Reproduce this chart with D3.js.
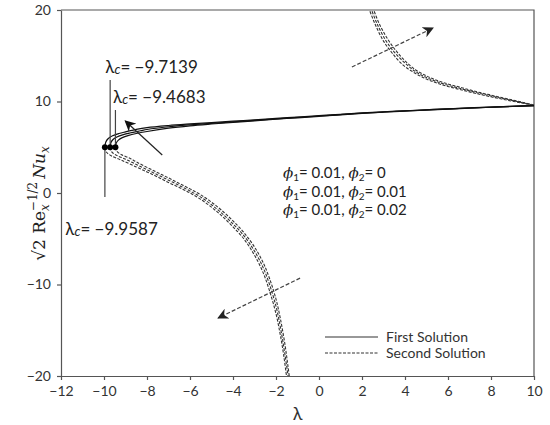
<!DOCTYPE html>
<html><head><meta charset="utf-8">
<script src="https://cdn.jsdelivr.net/npm/d3@7"></script>
<style>body{margin:0;background:#fff;} svg{display:block;}</style>
</head><body>
<svg id="chart" width="550" height="425"></svg>
<script>
// ---- data ----
const xTicks = [-12,-10,-8,-6,-4,-2,0,2,4,6,8,10];
const yTicks = [-20,-10,0,10,20];
const lambdaC = [-9.9587, -9.7139, -9.4683];
const lambdaCLabels = ["−9.9587", "−9.7139", "−9.4683"];
const phiLabels = [["0.01","0"],["0.01","0.01"],["0.01","0.02"]];
const legendLabels = ["First Solution", "Second Solution"];

const firstA = [[-9.9587,5.0],[-9.92,5.55],[-9.8,5.95],[-9.6,6.25],[-9.3,6.5],[-9.0,6.68],[-8.5,6.95],[-8,7.15],[-7,7.38],[-6,7.55],[-5,7.7],[-4,7.85],[-3,8.0],[-2,8.15],[-1,8.3],[0,8.45],[1,8.6],[2,8.75],[3,8.88],[4,8.99],[5,9.1],[6,9.2],[7,9.3],[8,9.39],[9,9.48],[10,9.56]];
const firstB = [[-9.7139,5.0],[-9.68,5.5],[-9.58,5.85],[-9.4,6.12],[-9.1,6.38],[-8.8,6.56],[-8.3,6.8],[-8,6.94],[-7,7.24],[-6,7.45],[-5,7.62],[-4,7.78],[-3,7.94],[-2,8.1],[-1,8.26],[0,8.41],[1,8.57],[2,8.72],[3,8.85],[4,8.97],[5,9.08],[6,9.19],[7,9.29],[8,9.38],[9,9.47],[10,9.55]];
const firstC = [[-9.4683,5.0],[-9.43,5.45],[-9.33,5.78],[-9.15,6.05],[-8.85,6.3],[-8.5,6.5],[-8,6.72],[-7,7.08],[-6,7.34],[-5,7.54],[-4,7.72],[-3,7.89],[-2,8.06],[-1,8.22],[0,8.38],[1,8.54],[2,8.69],[3,8.83],[4,8.95],[5,9.06],[6,9.17],[7,9.27],[8,9.37],[9,9.46],[10,9.55]];

const secondLowA = [[-9.9587,5.0],[-9.88,4.45],[-9.65,4.05],[-9.2,3.6],[-8.5,2.85],[-8,2.3],[-7.5,1.75],[-7,1.15],[-6.5,0.6],[-6,0.0],[-5.5,-0.7],[-5,-1.55],[-4.5,-2.55],[-4,-3.7],[-3.5,-5.0],[-3,-6.8],[-2.6,-8.7],[-2.3,-10.7],[-2.0,-13.2],[-1.8,-15.5],[-1.65,-17.6],[-1.5,-20.2],[-1.45,-21]];
const secondLowB = [[-9.7139,5.0],[-9.64,4.5],[-9.42,4.12],[-9.0,3.7],[-8.5,3.12],[-8,2.55],[-7.5,1.98],[-7,1.4],[-6.5,0.82],[-6,0.22],[-5.5,-0.45],[-5,-1.28],[-4.5,-2.25],[-4,-3.38],[-3.5,-4.65],[-3,-6.35],[-2.6,-8.15],[-2.3,-10.0],[-2.0,-12.4],[-1.8,-14.6],[-1.6,-17.4],[-1.42,-20.3],[-1.38,-21]];
const secondLowC = [[-9.4683,5.0],[-9.4,4.55],[-9.18,4.18],[-8.8,3.8],[-8.5,3.4],[-8,2.8],[-7.5,2.22],[-7,1.65],[-6.5,1.05],[-6,0.45],[-5.5,-0.2],[-5,-1.0],[-4.5,-1.95],[-4,-3.05],[-3.5,-4.3],[-3,-5.9],[-2.6,-7.6],[-2.3,-9.35],[-2.0,-11.6],[-1.8,-13.7],[-1.6,-16.3],[-1.45,-18.8],[-1.33,-21]];

const secondHighA = [[2.5,20.3],[2.8,18.5],[3.2,16.8],[3.6,15.5],[4.0,14.45],[4.5,13.45],[5,12.8],[5.5,12.3],[6,11.92],[6.5,11.6],[7,11.28],[7.5,10.97],[8,10.7],[8.5,10.43],[9,10.17],[9.5,9.9],[10,9.62]];
const secondHighB = [[2.4,20.3],[2.7,18.5],[3.1,16.7],[3.5,15.4],[4.0,14.2],[4.5,13.25],[5,12.62],[5.5,12.15],[6,11.78],[6.5,11.47],[7,11.16],[7.5,10.87],[8,10.6],[8.5,10.35],[9,10.1],[9.5,9.85],[10,9.6]];
const secondHighC = [[2.3,20.3],[2.6,18.5],[3.0,16.6],[3.4,15.3],[3.9,14.0],[4.5,13.05],[5,12.45],[5.5,12.0],[6,11.64],[6.5,11.34],[7,11.05],[7.5,10.77],[8,10.51],[8.5,10.27],[9,10.03],[9.5,9.8],[10,9.58]];

// annotation anchors (data units)
const arrowSolid = [[-7.29,4.15],[-9.01,7.87]];
const arrowUp = [[1.53,13.77],[5.30,18.03]];
const arrowDown = [[-0.88,-9.3],[-4.69,-13.66]];
const lcLineEnds = [-0.45, 12.35, 9.07];
const lcLabelPos = [[-11.8,-4.6],[-9.94,13.1],[-9.58,9.84]];

// ---- drawing ----
const svg = d3.select("#chart");
const x = d3.scaleLinear().domain([-12,10]).range([61,534]);
const y = d3.scaleLinear().domain([-20,20]).range([376,10]);
const axisColor = "#555", textColor = "#333";
const tickFont = "Lato, 'Open Sans', sans-serif";

const defs = svg.append("defs");
defs.append("clipPath").attr("id","clip").append("rect")
  .attr("x",x(-12)).attr("y",y(20)).attr("width",x(10)-x(-12)).attr("height",y(-20)-y(20));
function marker(id, color){
  defs.append("marker").attr("id",id).attr("viewBox","0 0 10 10")
    .attr("refX",9).attr("refY",5).attr("markerWidth",11).attr("markerHeight",11)
    .attr("markerUnits","userSpaceOnUse").attr("orient","auto")
    .append("path").attr("d","M0,0 L10,5 L0,10 L3,5 Z").attr("fill",color);
}
marker("ahBlack","#111");
marker("ahGray","#222");

// axes
const xAxis = d3.axisBottom(x).tickValues(xTicks).tickSizeInner(4).tickSizeOuter(0).tickPadding(6);
const yAxis = d3.axisLeft(y).tickValues(yTicks).tickSizeInner(4).tickSizeOuter(0).tickPadding(6);
const gx = svg.append("g").attr("transform",`translate(0,${y(-20)})`).call(xAxis);
const gy = svg.append("g").attr("transform",`translate(${x(-12)},0)`).call(yAxis);
[gx,gy].forEach(g=>{
  g.select(".domain").attr("stroke",axisColor).attr("stroke-width",1.2);
  g.selectAll(".tick line").attr("stroke",axisColor).attr("stroke-width",1.2);
  g.selectAll(".tick text").attr("fill",textColor).style("font-family",tickFont).style("font-size","14px");
});
// frame top/right
svg.append("path").attr("d",`M${x(-12)},${y(20)} H${x(10)} V${y(-20)}`)
  .attr("fill","none").attr("stroke",axisColor).attr("stroke-width",1.2);

// axis labels
svg.append("text").attr("x",(x(-12)+x(10))/2).attr("y",420).attr("text-anchor","middle")
  .attr("fill",textColor).style("font-family",tickFont).style("font-size","18px").text("λ");

const yl = svg.append("text").attr("transform",`translate(45,${y(-1.15)}) rotate(-90)`)
  .attr("text-anchor","middle").attr("fill","#222")
  .style("font-family","'DejaVu Serif', 'Liberation Serif', serif").style("font-size","17px");
yl.append("tspan").text("√2 Re");
yl.append("tspan").attr("dy",4).style("font-size","12px").style("font-style","italic").text("x");
yl.append("tspan").attr("dx",-7).attr("dy",-12).style("font-size","12px").text("−1/2");
yl.append("tspan").attr("dy",8).attr("dx",3).style("font-style","italic").text("Nu");
yl.append("tspan").attr("dy",4).style("font-size","12px").style("font-style","italic").text("x");

// curves
const line = d3.line().x(d=>x(d[0])).y(d=>y(d[1])).curve(d3.curveCatmullRom.alpha(0.5));
const plot = svg.append("g").attr("clip-path","url(#clip)");
const secondSeries = [secondLowA, secondLowB, secondLowC, secondHighA, secondHighB, secondHighC];
secondSeries.forEach(s=>{
  plot.append("path").datum(s).attr("d",line).attr("fill","none")
    .attr("stroke","#333").attr("stroke-width",1.1).attr("stroke-dasharray","3,1.5");
});
const firstSeries = [firstA, firstB, firstC];
firstSeries.forEach(s=>{
  plot.append("path").datum(s).attr("d",line).attr("fill","none")
    .attr("stroke","#111").attr("stroke-width",1.2);
});

// critical points, vertical lines and labels
lambdaC.forEach((lc,i)=>{
  svg.append("line").attr("x1",x(lc)).attr("x2",x(lc)).attr("y1",y(5)).attr("y2",y(lcLineEnds[i]))
    .attr("stroke","#444").attr("stroke-width",1.2);
});
lambdaC.forEach(lc=>{
  svg.append("circle").attr("cx",x(lc)).attr("cy",y(5)).attr("r",3).attr("fill","#000");
});
lambdaC.forEach((lc,i)=>{
  const t = svg.append("text").attr("x",x(lcLabelPos[i][0])).attr("y",y(lcLabelPos[i][1]))
    .attr("fill","#222").style("font-family",tickFont).style("font-size","17px");
  t.append("tspan").text("λ");
  t.append("tspan").attr("dy",1).style("font-size","13px").style("font-style","italic").text("c");
  t.append("tspan").attr("dy",-1).text("= " + lambdaCLabels[i]);
});

// arrows
function arrow(pts, color, dash, mk){
  svg.append("line").attr("x1",x(pts[0][0])).attr("y1",y(pts[0][1]))
    .attr("x2",x(pts[1][0])).attr("y2",y(pts[1][1]))
    .attr("stroke",color).attr("stroke-width",1.2)
    .attr("stroke-dasharray",dash).attr("marker-end",`url(#${mk})`);
}
arrow(arrowSolid,"#222",null,"ahBlack");
arrow(arrowUp,"#444","4,2","ahGray");
arrow(arrowDown,"#444","4,2","ahGray");

// phi text block
phiLabels.forEach((p,i)=>{
  const t = svg.append("text").attr("x",283).attr("y",178 + i*18.7)
    .attr("fill","#222").style("font-family","Lato, sans-serif").style("font-size","15px");
  t.append("tspan").style("font-family","'DejaVu Serif', serif").style("font-style","italic").text("ϕ");
  t.append("tspan").attr("dy",3).style("font-size","10px").text("1");
  t.append("tspan").attr("dy",-3).text("= " + p[0] + ", ");
  t.append("tspan").style("font-family","'DejaVu Serif', serif").style("font-style","italic").text("ϕ");
  t.append("tspan").attr("dy",3).style("font-size","10px").text("2");
  t.append("tspan").attr("dy",-3).text("= " + p[1]);
});

// legend
const legendStyles = [null, "3,1.5"];
legendLabels.forEach((lab,i)=>{
  const ly = 337 + i*16;
  svg.append("line").attr("x1",325).attr("x2",378).attr("y1",ly).attr("y2",ly)
    .attr("stroke","#333").attr("stroke-width",1.1).attr("stroke-dasharray",legendStyles[i]);
  svg.append("text").attr("x",386).attr("y",ly+5).attr("fill",textColor)
    .style("font-family",tickFont).style("font-size","14px").text(lab);
});
</script>
</body></html>
